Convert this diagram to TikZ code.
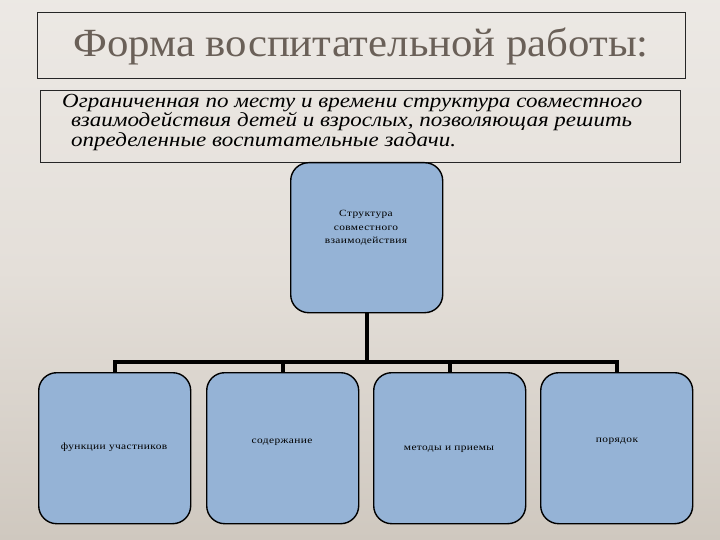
\documentclass[tikz,border=0pt]{standalone}
\usepackage{fontspec}
\setmainfont{Liberation Serif}
\newfontfamily\titlefont[FakeStretch=1.07]{Liberation Serif}
\newfontfamily\deffont[FakeStretch=1.15]{Liberation Serif}
\newfontfamily\smallfont[FakeStretch=1.2, LetterSpace=4]{Liberation Serif}
\definecolor{bg}{HTML}{E4DFD9}
\definecolor{bgdark}{HTML}{CFC8BF}
\definecolor{boxfill}{HTML}{95B3D6}
\definecolor{titlecol}{HTML}{6A6058}
\begin{document}
\begin{tikzpicture}[x=1pt,y=-1pt,
  framebox/.style={draw=black!85, line width=0.8pt},
  blue box/.style={draw=black, line width=1.4pt, fill=boxfill, rounded corners=18pt},
  small/.style={font=\smallfont\fontsize{9.5}{13.5}\selectfont, align=center, text=black},
  tree/.style={line width=4pt, black}
]
\useasboundingbox (0,0) rectangle (720,540);
\shade[top color=bg!70!white, bottom color=bgdark, middle color=bg] (0,0) rectangle (720,540);
% title
\node[framebox, minimum width=648pt, minimum height=66pt, anchor=north west, inner sep=0pt] (titlebox) at (37,12) {};
\node[text=titlecol, font=\titlefont\fontsize{40}{44}\selectfont] (title) at (361,46) {Форма воспитательной работы:};
% definition box
\node[framebox, minimum width=640pt, minimum height=72pt, anchor=north west, inner sep=0pt] (defbox) at (40,90) {};
\node[anchor=north west, align=left, font=\deffont\fontsize{20}{17.5}\itshape\selectfont, inner sep=0pt] (def) at (62,94)
  {Ограниченная по месту и времени структура совместного\\
   \hspace*{9pt}взаимодействия детей и взрослых, позволяющая решить\\
   \hspace*{9pt}определенные воспитательные задачи.};
% top node
\node[blue box, minimum width=152pt, minimum height=150pt, anchor=north west, inner sep=0pt] (top) at (290,162) {};
\node[small] (toptext) at (366,228) {Структура\\совместного\\взаимодействия};
% bottom nodes
\foreach \n/\x in {b1/38, b2/206, b3/373, b4/540}{
  \node[blue box, minimum width=152pt, minimum height=151pt, anchor=north west, inner sep=0pt] (\n) at (\x,372) {};
}
\node[small] (t1) at (114,447) {функции участников};
\node[small] (t2) at (282,442) {содержание};
\node[small] (t3) at (449,449) {методы и приемы};
\node[small] (t4) at (617,441) {порядок};
% connectors
\coordinate (bus) at (366,362);
\draw[tree] (top.south) -- (top.south |- bus);
\draw[tree, line cap=rect] (b1.north |- bus) -- (b4.north |- bus);
\foreach \n in {b1,b2,b3,b4}{
  \draw[tree] (\n.north |- bus) -- (\n.north);
}
\end{tikzpicture}
\end{document}
